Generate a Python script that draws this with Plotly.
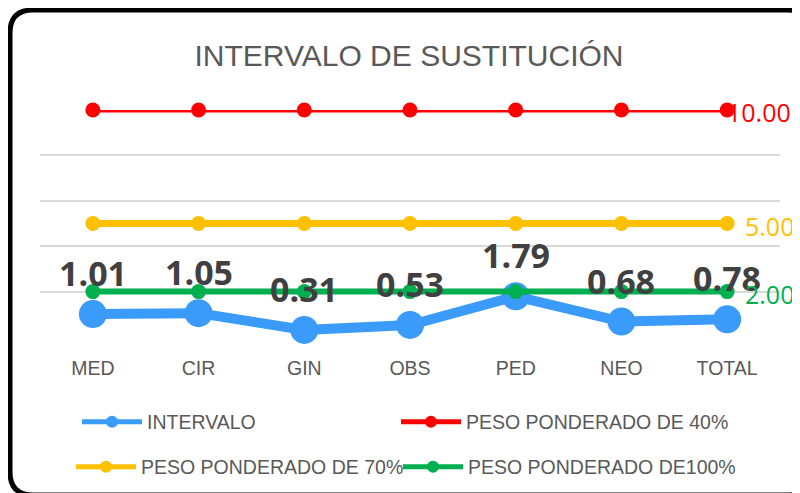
import plotly.graph_objects as go

categories = ["MED", "CIR", "GIN", "OBS", "PED", "NEO", "TOTAL"]
intervalo = [1.01, 1.05, 0.31, 0.53, 1.79, 0.68, 0.78]
peso_40 = [10, 10, 10, 10, 10, 10, 10]
peso_70 = [5, 5, 5, 5, 5, 5, 5]
peso_100 = [2, 2, 2, 2, 2, 2, 2]
y_ticks = [0, 2, 4, 6, 8, 10]

# page body adds an 8px margin; lay the figure out in window pixels minus that offset
OFF = 8
W, H = 800 - OFF, 493 - OFF
PLOT_L, PLOT_R, PLOT_T, PLOT_B = 40, 780, 110, 337   # window pixels
ML, MR = PLOT_L - OFF, W - (PLOT_R - OFF)
MT, MB = PLOT_T - OFF, H - (PLOT_B - OFF)
PW, PH = PLOT_R - PLOT_L, PLOT_B - PLOT_T

def px(x):
    return (x - PLOT_L) / PW

def py(y):
    return (PLOT_B - y) / PH

def cx(x):
    return (x - OFF) / W

def cy(y):
    return 1 - (y - OFF) / H

SANS = "Liberation Sans, Arial"
GREY = "#595959"

fig = go.Figure()

series = [
    ("INTERVALO", intervalo, "#3A9BFA", 10, 28, "legend"),
    ("PESO PONDERADO DE 40%", peso_40, "#FF0000", 5, 15, "legend2"),
    ("PESO PONDERADO DE 70%", peso_70, "#FFC000", 7, 15, "legend3"),
    ("PESO PONDERADO DE100%", peso_100, "#00B050", 6, 15, "legend4"),
]
for name, vals, col, lw, ms, lg in series:
    fig.add_trace(go.Scatter(
        x=categories, y=vals, name=name, mode="lines+markers",
        line=dict(color=col, width=lw), marker=dict(color=col, size=ms),
        cliponaxis=False, legend=lg, hoverinfo="skip",
    ))

annotations = []
for c, v in zip(categories, intervalo):
    annotations.append(dict(
        x=c, y=v, xref="x", yref="y", text=f"{v:.2f}", showarrow=False,
        yshift=41, xanchor="center", yanchor="middle",
        font=dict(family="Open Sans, Liberation Sans, Arial", size=34, color="#404040", weight="bold"),
    ))
for vals, col, xs in [(peso_40, "#FF0000", -2), (peso_70, "#FFC000", 16), (peso_100, "#00B050", 16)]:
    annotations.append(dict(
        x=categories[-1], y=vals[-1], xref="x", yref="y", text=f"{vals[-1]:.2f}",
        showarrow=False, xanchor="left", yanchor="middle", xshift=xs, yshift=-2,
        font=dict(family="Open Sans, Liberation Sans, Arial", size=25, color=col),
    ))

border = (
    f"M {px(10)},{py(33)} Q {px(10)},{py(10)} {px(33)},{py(10)} "
    f"L {px(787)},{py(10)} Q {px(810)},{py(10)} {px(810)},{py(33)} "
    f"L {px(810)},{py(472)} Q {px(810)},{py(495)} {px(787)},{py(495)} "
    f"L {px(33)},{py(495)} Q {px(10)},{py(495)} {px(10)},{py(472)} Z"
)

legend_common = dict(
    orientation="h", xanchor="left", yanchor="middle",
    xref="container", yref="container",
    font=dict(family=SANS, size=19.5, color=GREY),
    itemsizing="constant", itemwidth=60,
    bgcolor="rgba(0,0,0,0)", itemclick=False, itemdoubleclick=False,
)

fig.update_layout(
    width=W, height=H,
    margin=dict(l=ML, r=MR, t=MT, b=MB),
    paper_bgcolor="white", plot_bgcolor="white",
    title=dict(text="INTERVALO DE SUSTITUCIÓN", x=cx(409), xanchor="center",
               y=cy(55), yanchor="middle", xref="container", yref="container",
               font=dict(family=SANS, size=30, color=GREY)),
    xaxis=dict(type="category", categoryorder="array", categoryarray=categories,
               range=[-0.5, len(categories) - 0.5], showgrid=False, zeroline=False,
               showline=False, ticks="outside", ticklen=14, tickcolor="rgba(0,0,0,0)",
               tickfont=dict(family=SANS, size=19.5, color=GREY)),
    yaxis=dict(range=[0, 10], tickvals=y_ticks, showticklabels=False,
               showgrid=True, gridcolor="#D9D9D9", gridwidth=1.5, zeroline=False,
               showline=False),
    showlegend=True,
    legend=dict(x=cx(77), y=cy(422), **legend_common),
    legend2=dict(x=cx(396), y=cy(422), **legend_common),
    legend3=dict(x=cx(71), y=cy(467), **legend_common),
    legend4=dict(x=cx(398), y=cy(467), **legend_common),
    annotations=annotations,
    shapes=[dict(type="path", path=border, xref="paper", yref="paper",
                 line=dict(color="black", width=5), fillcolor="rgba(0,0,0,0)", layer="above")],
)

fig.write_html("out.html")
